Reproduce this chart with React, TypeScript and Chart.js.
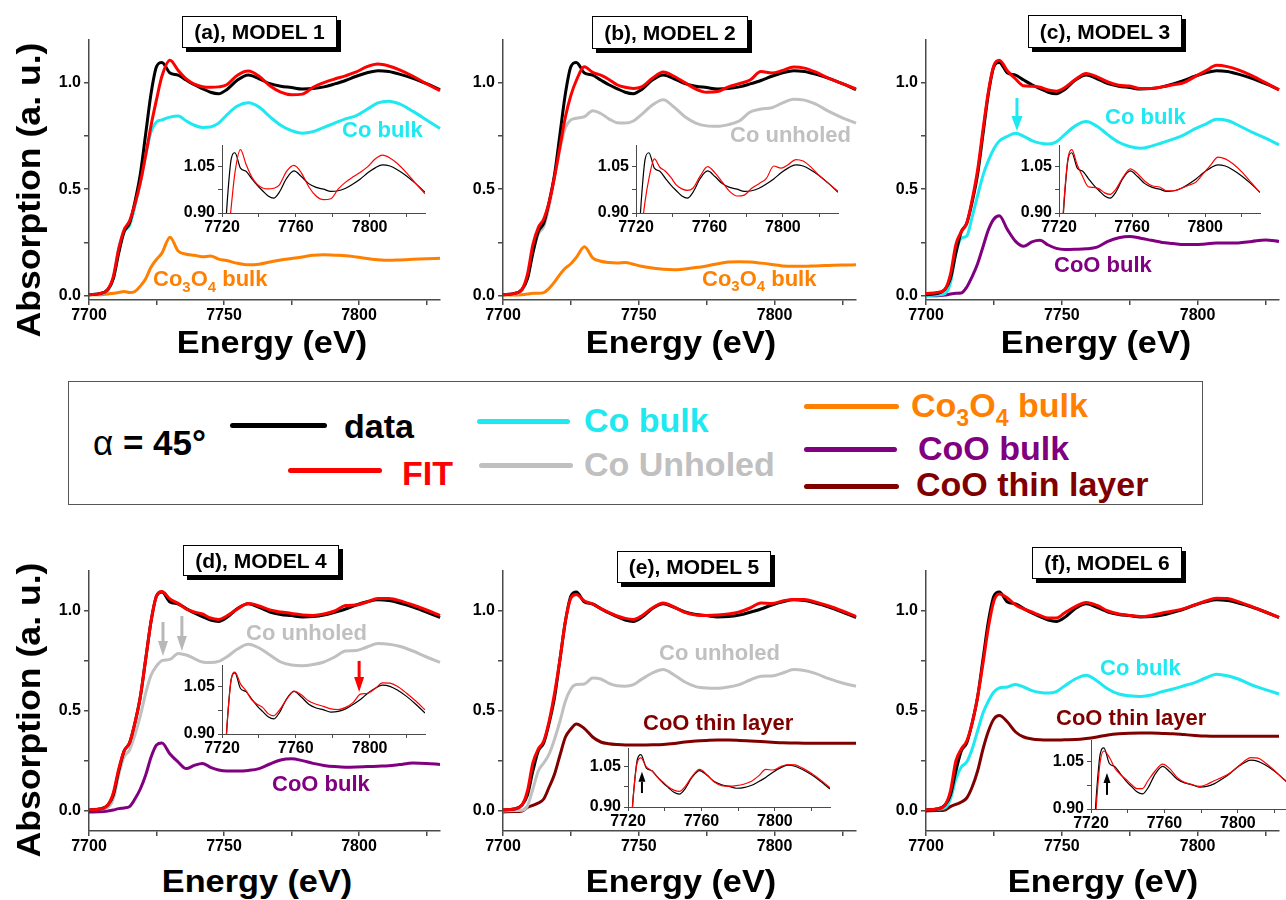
import React, { useEffect, useRef } from 'react';
import { Chart, registerables } from 'chart.js';

Chart.register(...registerables);

const FONT = 'Arial, "Liberation Sans", Helvetica, sans-serif';

// ---------- data (energy grid in eV, absorption in a.u.) ----------
const ENERGY = [
  7700, 7704, 7707, 7709, 7711, 7713, 7715, 7717, 7719, 7721,
  7723, 7725, 7727, 7730, 7733, 7736, 7739, 7742, 7745, 7748,
  7751, 7755, 7759, 7763, 7767, 7771, 7775, 7779, 7783, 7787,
  7791, 7795, 7799, 7803, 7807, 7811, 7815, 7820, 7825, 7830,
];

const DATA = [
  0.005, 0.01, 0.03, 0.08, 0.2, 0.3, 0.34, 0.44, 0.57, 0.76,
  0.95, 1.075, 1.095, 1.045, 1.035, 1.012, 0.99, 0.972, 0.955, 0.948,
  0.967, 1.012, 1.036, 1.018, 0.995, 0.983, 0.977, 0.97, 0.972, 0.98,
  0.994, 1.01, 1.03, 1.046, 1.056, 1.052, 1.04, 1.02, 0.995, 0.967,
];

const FIT_A = [
  0.005, 0.01, 0.03, 0.09, 0.22, 0.31, 0.35, 0.43, 0.53, 0.66,
  0.8, 0.92, 1.03, 1.105, 1.058, 1.018, 0.993, 0.981, 0.978, 0.98,
  0.99, 1.035, 1.054, 1.03, 0.985, 0.955, 0.943, 0.946, 0.978, 1.0,
  1.017, 1.032, 1.05, 1.075, 1.087, 1.078, 1.06, 1.03, 0.995, 0.962,
];
const CO_BULK_A = [
  0.005, 0.008, 0.025, 0.08, 0.22, 0.3, 0.33, 0.42, 0.53, 0.66,
  0.77, 0.815, 0.825, 0.838, 0.843, 0.82, 0.8, 0.79, 0.792, 0.81,
  0.848, 0.89, 0.905, 0.885, 0.84, 0.8, 0.775, 0.763, 0.77, 0.79,
  0.81, 0.83, 0.845, 0.875, 0.905, 0.913, 0.9, 0.865, 0.825, 0.785,
];
const CO3O4_A = [
  0.005, 0.005, 0.008, 0.012, 0.015, 0.02, 0.015, 0.02, 0.045, 0.08,
  0.135, 0.17, 0.2, 0.275, 0.21, 0.195, 0.19, 0.183, 0.186, 0.172,
  0.165, 0.152, 0.145, 0.148, 0.158, 0.168, 0.175, 0.182, 0.19, 0.192,
  0.19, 0.188, 0.182, 0.175, 0.169, 0.166, 0.168, 0.171, 0.173, 0.176,
];

const FIT_B = [
  0.005, 0.01, 0.03, 0.1, 0.24, 0.32, 0.36, 0.44, 0.56, 0.7,
  0.84, 0.94, 1.01, 1.075, 1.048, 1.035, 1.015, 0.99, 0.978, 0.973,
  0.98, 1.02, 1.05, 1.03, 1.0, 0.97, 0.955, 0.958, 0.98, 0.995,
  1.012, 1.052, 1.045, 1.057, 1.073, 1.068, 1.05, 1.02, 0.995, 0.97,
];
const CO_UNHOLED_B = [
  0.005, 0.008, 0.025, 0.08, 0.21, 0.29, 0.325, 0.42, 0.56, 0.69,
  0.79, 0.825, 0.833, 0.84, 0.868, 0.855, 0.83, 0.812, 0.81, 0.82,
  0.85, 0.895, 0.92, 0.885, 0.84, 0.81, 0.797, 0.795, 0.803, 0.82,
  0.862, 0.876, 0.882, 0.905, 0.922, 0.918, 0.9, 0.865, 0.835, 0.81,
];
const CO3O4_B = [
  0.003, 0.003, 0.005, 0.008, 0.012, 0.012, 0.015, 0.035, 0.065, 0.1,
  0.13, 0.15, 0.18, 0.23, 0.178, 0.162, 0.156, 0.154, 0.156, 0.148,
  0.138, 0.13, 0.124, 0.122, 0.126, 0.132, 0.14, 0.15, 0.158, 0.16,
  0.158, 0.153, 0.147, 0.14, 0.138, 0.138, 0.14, 0.142, 0.144, 0.145,
];

const FIT_C = [
  0.01, 0.015, 0.03, 0.1, 0.24, 0.3, 0.34, 0.45, 0.59, 0.78,
  0.96, 1.08, 1.105, 1.055, 1.017, 0.985, 0.983, 0.978, 0.965, 0.96,
  0.976, 1.015, 1.043, 1.027, 1.003, 0.988, 0.984, 0.972, 0.972, 0.98,
  0.99, 1.0, 1.028, 1.055, 1.081, 1.075, 1.06, 1.033, 1.0, 0.966,
];
const CO_BULK_C = [
  0.0, 0.003, 0.01, 0.06, 0.2, 0.27, 0.28, 0.37, 0.47, 0.565,
  0.635, 0.69, 0.726, 0.748, 0.762, 0.748, 0.728, 0.716, 0.712, 0.722,
  0.755, 0.797, 0.817, 0.795, 0.755, 0.72, 0.7, 0.692, 0.702, 0.718,
  0.735, 0.755, 0.783, 0.805, 0.828, 0.822, 0.8, 0.768, 0.74, 0.708,
];
const COO_BULK_C = [
  0.0, 0.0, 0.003, 0.008, 0.012, 0.013, 0.04, 0.09, 0.15, 0.23,
  0.31, 0.36, 0.375, 0.31, 0.255, 0.232, 0.253, 0.26, 0.238, 0.222,
  0.217, 0.218, 0.22, 0.228, 0.255, 0.272, 0.278, 0.27, 0.26, 0.25,
  0.245, 0.24, 0.24, 0.243, 0.247, 0.247, 0.248, 0.255, 0.262, 0.255,
];

const FIT_D = [
  0.005, 0.01, 0.03, 0.09, 0.21, 0.3, 0.34, 0.44, 0.57, 0.76,
  0.95, 1.075, 1.097, 1.06, 1.038, 1.01, 0.995, 0.985, 0.965, 0.958,
  0.975, 1.01, 1.037, 1.025, 1.005, 0.995, 0.988, 0.98, 0.978, 0.985,
  1.0, 1.027, 1.03, 1.045, 1.063, 1.062, 1.052, 1.03, 1.005, 0.977,
];
const CO_UNHOLED_D = [
  0.007, 0.01, 0.018, 0.06, 0.18, 0.27, 0.305, 0.38, 0.475, 0.59,
  0.68, 0.725, 0.752, 0.758, 0.788, 0.78, 0.762, 0.745, 0.742, 0.748,
  0.77, 0.81, 0.834, 0.815, 0.78, 0.745, 0.73, 0.726, 0.732, 0.745,
  0.77, 0.8, 0.802, 0.82, 0.837, 0.834, 0.824, 0.8, 0.77, 0.743,
];
const COO_BULK_D = [
  -0.005, -0.004, 0.0, 0.005, 0.012, 0.015, 0.022, 0.06, 0.11, 0.18,
  0.27, 0.33, 0.34, 0.285, 0.245, 0.212, 0.228, 0.238, 0.218, 0.205,
  0.2, 0.2, 0.203, 0.212, 0.235, 0.255, 0.261, 0.252, 0.238, 0.228,
  0.222, 0.219, 0.22, 0.222, 0.224, 0.226, 0.232, 0.24, 0.238, 0.233,
];

const FIT_E = [
  0.005, 0.01, 0.03, 0.1, 0.24, 0.31, 0.35, 0.45, 0.59, 0.76,
  0.95, 1.065, 1.083, 1.05, 1.035, 1.012, 0.993, 0.975, 0.963, 0.958,
  0.975, 1.015, 1.04, 1.02, 0.993, 0.98, 0.978, 0.98, 0.985, 0.995,
  1.015, 1.04, 1.038, 1.05, 1.058, 1.057, 1.045, 1.025, 1.0, 0.972,
];
const CO_UNHOLED_E = [
  0.0, 0.002, 0.004, 0.025, 0.11, 0.2, 0.24, 0.285, 0.36, 0.45,
  0.55, 0.61, 0.632, 0.635, 0.665, 0.66, 0.638, 0.626, 0.624, 0.632,
  0.658, 0.69, 0.707, 0.68, 0.645, 0.622, 0.615, 0.614, 0.62, 0.632,
  0.655, 0.674, 0.675, 0.69, 0.707, 0.702, 0.688, 0.662, 0.64, 0.624,
];
const COO_THIN_E = [
  -0.005, -0.003, 0.0, 0.018, 0.028, 0.04, 0.06, 0.12, 0.185, 0.28,
  0.37, 0.41, 0.435, 0.412, 0.37, 0.345, 0.336, 0.332, 0.33, 0.33,
  0.33, 0.331, 0.333, 0.338, 0.345, 0.35, 0.353, 0.355, 0.355, 0.353,
  0.35, 0.347, 0.344, 0.341, 0.34, 0.339, 0.339, 0.339, 0.339, 0.339,
];

const FIT_F = [
  0.005, 0.01, 0.03, 0.1, 0.25, 0.31, 0.35, 0.44, 0.57, 0.74,
  0.92, 1.05, 1.085, 1.065, 1.03, 1.01, 0.995, 0.978, 0.965, 0.965,
  0.99, 1.022, 1.043, 1.028, 1.0, 0.985, 0.978, 0.972, 0.978, 0.99,
  1.0, 1.012, 1.03, 1.05, 1.064, 1.062, 1.047, 1.022, 0.995, 0.968,
];
const CO_BULK_F = [
  0.007, 0.009, 0.015, 0.06, 0.16, 0.22, 0.245, 0.31, 0.4, 0.49,
  0.55, 0.595, 0.615, 0.62, 0.633, 0.62, 0.602, 0.593, 0.59, 0.597,
  0.625, 0.66, 0.679, 0.65, 0.61, 0.585, 0.576, 0.573, 0.58, 0.597,
  0.61, 0.626, 0.642, 0.665, 0.684, 0.676, 0.66, 0.63, 0.607, 0.585,
];
const COO_THIN_F = [
  0.0, 0.002, 0.005, 0.022, 0.033, 0.045, 0.065, 0.12, 0.2, 0.31,
  0.4, 0.46, 0.477, 0.445, 0.395, 0.37, 0.36, 0.356, 0.355, 0.355,
  0.356, 0.357, 0.362, 0.37, 0.38, 0.386, 0.389, 0.39, 0.39, 0.388,
  0.386, 0.382, 0.378, 0.375, 0.374, 0.374, 0.374, 0.374, 0.374, 0.374,
];

// ---------- ticks ----------
const MAIN_X_TICKS = [7700, 7725, 7750, 7775, 7800, 7825];
const MAIN_X_LABELS = [7700, 7750, 7800];
const MAIN_Y_TICKS = [0, 0.25, 0.5, 0.75, 1.0];
const MAIN_Y_LABELS = [0, 0.5, 1.0];
const INSET_X_TICKS = [7720, 7740, 7760, 7780, 7800, 7820];
const INSET_X_LABELS = [7720, 7760, 7800];
const INSET_Y_TICKS = [0.9, 0.975, 1.05];
const INSET_Y_LABELS = [0.9, 1.05];

// ---------- colours ----------
const C_DATA = '#000000';
const C_FIT = '#ff0000';
const C_CO_BULK = '#1ee8f0';
const C_UNHOLED = '#c0c0c0';
const C_CO3O4 = '#ff8000';
const C_COO_BULK = '#800080';
const C_COO_THIN = '#800000';
const AXIS_COLOR = '#4a4a4a';

type Line = { values: number[]; color: string };
type ArrowMark = { e: number; from: number; to: number; color: string; w: number; hw: number; hl: number };
type Rect = { l: number; t: number; r: number; b: number };

const near = (arr: number[], v: number) => arr.some((a) => Math.abs(a - v) < 1e-6);

const arrowPlugin = {
  id: 'arrowMarks',
  afterDatasetsDraw(chart: any, _args: any, opts: any) {
    const items: ArrowMark[] = (opts && opts.items) || [];
    const ctx = chart.ctx;
    const xs = chart.scales.x;
    const ys = chart.scales.y;
    items.forEach((a) => {
      const x = xs.getPixelForValue(a.e);
      const y0 = ys.getPixelForValue(a.from);
      const y1 = ys.getPixelForValue(a.to);
      const dir = Math.sign(y1 - y0);
      const base = y1 - dir * a.hl;
      ctx.save();
      ctx.strokeStyle = a.color;
      ctx.fillStyle = a.color;
      ctx.lineWidth = a.w;
      ctx.beginPath();
      ctx.moveTo(x, y0);
      ctx.lineTo(x, base);
      ctx.stroke();
      ctx.beginPath();
      ctx.moveTo(x - a.hw / 2, base);
      ctx.lineTo(x + a.hw / 2, base);
      ctx.lineTo(x, y1);
      ctx.closePath();
      ctx.fill();
      ctx.restore();
    });
  },
};

type PlotProps = {
  rect: Rect;
  inset: boolean;
  xMin: number;
  xMax: number;
  yMin: number;
  yMax: number;
  lines: Line[];
  arrows?: ArrowMark[];
};

function Plot(p: PlotProps) {
  const ref = useRef<HTMLCanvasElement | null>(null);
  const m = p.inset ? { yw: 48, pt: 10, pr: 10, xh: 24 } : { yw: 64, pt: 10, pr: 12, xh: 30 };
  const W = p.rect.r - p.rect.l + m.yw + m.pr;
  const H = p.rect.b - p.rect.t + m.pt + m.xh;

  useEffect(() => {
    const canvas = ref.current;
    if (!canvas) return;
    const xT = p.inset ? INSET_X_TICKS : MAIN_X_TICKS;
    const xL = p.inset ? INSET_X_LABELS : MAIN_X_LABELS;
    const yT = p.inset ? INSET_Y_TICKS : MAIN_Y_TICKS;
    const yL = p.inset ? INSET_Y_LABELS : MAIN_Y_LABELS;
    const tickFont = { family: FONT, size: 16, weight: 'bold' as const };
    const zeroPad = (ax: any) => {
      ax.paddingLeft = 0;
      ax.paddingRight = 0;
      ax.paddingTop = 0;
      ax.paddingBottom = 0;
    };
    const chart = new Chart(canvas, {
      type: 'line',
      data: {
        datasets: p.lines.map((ln) => ({
          data: ENERGY.map((x, i) => ({ x, y: ln.values[i] })),
          borderColor: ln.color,
          backgroundColor: ln.color,
          borderWidth: p.inset ? 1.2 : 3,
          pointRadius: 0,
          cubicInterpolationMode: 'monotone' as const,
          fill: false,
          clip: p.inset ? 0 : 1,
        })),
      },
      options: {
        animation: false,
        responsive: false,
        maintainAspectRatio: false,
        events: [],
        layout: { padding: { left: 0, top: m.pt, right: m.pr, bottom: 0 } },
        plugins: {
          legend: { display: false },
          tooltip: { enabled: false },
          arrowMarks: { items: p.arrows || [] },
        } as any,
        scales: {
          x: {
            type: 'linear',
            bounds: 'data',
            min: p.xMin,
            max: p.xMax,
            afterBuildTicks: (ax: any) => {
              ax.ticks = xT.map((v) => ({ value: v }));
            },
            afterFit: (ax: any) => {
              ax.height = m.xh;
              zeroPad(ax);
            },
            ticks: {
              autoSkip: false,
              maxRotation: 0,
              minRotation: 0,
              padding: 1,
              color: '#000',
              font: tickFont,
              callback: (v: any) => (near(xL, Number(v)) ? String(v) : ''),
            },
            grid: {
              display: true,
              drawOnChartArea: false,
              drawTicks: true,
              tickLength: p.inset ? 4 : 5,
              color: AXIS_COLOR,
              lineWidth: p.inset ? 1 : 1.5,
            },
            border: { display: true, color: AXIS_COLOR, width: p.inset ? 1 : 1.5 },
          },
          y: {
            type: 'linear',
            bounds: 'data',
            min: p.yMin,
            max: p.yMax,
            afterBuildTicks: (ax: any) => {
              ax.ticks = yT.map((v) => ({ value: v }));
            },
            afterFit: (ax: any) => {
              ax.width = m.yw;
              zeroPad(ax);
            },
            ticks: {
              autoSkip: false,
              padding: 3,
              color: '#000',
              font: tickFont,
              callback: (v: any) =>
                near(yL, Number(v)) ? Number(v).toFixed(p.inset ? 2 : 1) : '',
            },
            grid: {
              display: true,
              drawOnChartArea: false,
              drawTicks: true,
              tickLength: p.inset ? 4 : 5,
              color: AXIS_COLOR,
              lineWidth: p.inset ? 1 : 1.5,
            },
            border: { display: true, color: AXIS_COLOR, width: p.inset ? 1 : 1.5 },
          },
        },
      },
      plugins: [arrowPlugin as any],
    });
    return () => chart.destroy();
  }, []);

  return (
    <canvas
      ref={ref}
      width={W}
      height={H}
      style={{
        position: 'absolute',
        left: p.rect.l - m.yw,
        top: p.rect.t - m.pt,
        width: W,
        height: H,
        display: 'block',
      }}
    />
  );
}

// ---------- panels ----------
type Panel = {
  title: string;
  box: { x: number; y: number; w: number; h: number };
  main: Rect;
  yMin: number;
  inset: Rect;
  fit: number[];
  comps: Line[];
  mainArrows?: ArrowMark[];
  insetArrows?: ArrowMark[];
  xTitle: { cx: number; cy: number };
};

const TOP_YMIN = -0.02;
const BOT_YMIN = -0.1;

const PANELS: Panel[] = [
  {
    title: '(a), MODEL 1',
    box: { x: 182, y: 16, w: 155, h: 32 },
    main: { l: 89, t: 40, r: 440, b: 300 },
    yMin: TOP_YMIN,
    inset: { l: 222, t: 145, r: 425, b: 213 },
    fit: FIT_A,
    comps: [
      { values: CO_BULK_A, color: C_CO_BULK },
      { values: CO3O4_A, color: C_CO3O4 },
    ],
    xTitle: { cx: 272, cy: 341.5 },
  },
  {
    title: '(b), MODEL 2',
    box: { x: 592, y: 16, w: 156, h: 33 },
    main: { l: 503, t: 40, r: 856, b: 300 },
    yMin: TOP_YMIN,
    inset: { l: 636, t: 145, r: 838, b: 213 },
    fit: FIT_B,
    comps: [
      { values: CO_UNHOLED_B, color: C_UNHOLED },
      { values: CO3O4_B, color: C_CO3O4 },
    ],
    xTitle: { cx: 681, cy: 341.5 },
  },
  {
    title: '(c), MODEL 3',
    box: { x: 1028, y: 15, w: 154, h: 33 },
    main: { l: 926, t: 40, r: 1279, b: 300 },
    yMin: TOP_YMIN,
    inset: { l: 1059, t: 145, r: 1260, b: 213 },
    fit: FIT_C,
    comps: [
      { values: CO_BULK_C, color: C_CO_BULK },
      { values: COO_BULK_C, color: C_COO_BULK },
    ],
    mainArrows: [{ e: 7733.5, from: 0.928, to: 0.773, color: C_CO_BULK, w: 3, hw: 11, hl: 15 }],
    xTitle: { cx: 1096, cy: 341.5 },
  },
  {
    title: '(d), MODEL 4',
    box: { x: 183, y: 545, w: 156, h: 31 },
    main: { l: 89, t: 571, r: 440, b: 831 },
    yMin: BOT_YMIN,
    inset: { l: 222, t: 665, r: 425, b: 734 },
    fit: FIT_D,
    comps: [
      { values: CO_UNHOLED_D, color: C_UNHOLED },
      { values: COO_BULK_D, color: C_COO_BULK },
    ],
    mainArrows: [
      { e: 7727.4, from: 0.945, to: 0.775, color: '#b8b8b8', w: 3, hw: 10, hl: 15 },
      { e: 7734.4, from: 0.975, to: 0.8, color: '#b8b8b8', w: 3, hw: 10, hl: 15 },
    ],
    insetArrows: [{ e: 7794.3, from: 1.133, to: 1.034, color: C_FIT, w: 3, hw: 10, hl: 15 }],
    xTitle: { cx: 257, cy: 881 },
  },
  {
    title: '(e), MODEL 5',
    box: { x: 617, y: 551, w: 154, h: 32 },
    main: { l: 503, t: 571, r: 856, b: 831 },
    yMin: BOT_YMIN,
    inset: { l: 628, t: 748, r: 830, b: 807 },
    fit: FIT_E,
    comps: [
      { values: CO_UNHOLED_E, color: C_UNHOLED },
      { values: COO_THIN_E, color: C_COO_THIN },
    ],
    insetArrows: [{ e: 7727.6, from: 0.952, to: 1.031, color: '#000', w: 2, hw: 7, hl: 10 }],
    xTitle: { cx: 681, cy: 881 },
  },
  {
    title: '(f), MODEL 6',
    box: { x: 1032, y: 547, w: 150, h: 32 },
    main: { l: 926, t: 571, r: 1279, b: 831 },
    yMin: BOT_YMIN,
    inset: { l: 1091, t: 740, r: 1293, b: 809 },
    fit: FIT_F,
    comps: [
      { values: CO_BULK_F, color: C_CO_BULK },
      { values: COO_THIN_F, color: C_COO_THIN },
    ],
    insetArrows: [{ e: 7728.7, from: 0.945, to: 1.015, color: '#000', w: 2, hw: 7, hl: 10 }],
    xTitle: { cx: 1103, cy: 881 },
  },
];

// ---------- text helpers ----------
function Sub({ children }: { children: React.ReactNode }) {
  return (
    <span style={{ fontSize: '0.68em', position: 'relative', top: '0.38em' }}>{children}</span>
  );
}

function Label(props: {
  x: number;
  cy: number;
  size: number;
  color: string;
  children: React.ReactNode;
}) {
  return (
    <div
      style={{
        position: 'absolute',
        left: props.x,
        top: props.cy - props.size * 0.5,
        fontFamily: FONT,
        fontSize: props.size,
        fontWeight: 'bold',
        color: props.color,
        lineHeight: 1,
        whiteSpace: 'nowrap',
      }}
    >
      {props.children}
    </div>
  );
}

function Centered(props: {
  cx: number;
  cy: number;
  size: number;
  rotate?: boolean;
  scale?: number;
  children: React.ReactNode;
}) {
  const s = props.scale || 1;
  return (
    <div
      style={{
        position: 'absolute',
        left: props.cx,
        top: props.cy,
        transform: `translate(-50%, -50%)${props.rotate ? ' rotate(-90deg)' : ''} scaleX(${s})`,
        fontFamily: FONT,
        fontSize: props.size,
        fontWeight: 'bold',
        color: '#000',
        lineHeight: 1,
        whiteSpace: 'nowrap',
      }}
    >
      {props.children}
    </div>
  );
}

function TitleBox({ box, text }: { box: Panel['box']; text: string }) {
  return (
    <div
      style={{
        position: 'absolute',
        left: box.x,
        top: box.y,
        width: box.w,
        height: box.h,
        boxSizing: 'border-box',
        border: '1px solid #000',
        background: '#fff',
        boxShadow: '4px 4px 0 #000',
        display: 'flex',
        alignItems: 'center',
        justifyContent: 'center',
        fontFamily: FONT,
        fontWeight: 'bold',
        fontSize: 21,
        color: '#000',
        whiteSpace: 'nowrap',
      }}
    >
      {text}
    </div>
  );
}

function LegendLine(props: { x1: number; x2: number; y: number; color: string }) {
  return (
    <div
      style={{
        position: 'absolute',
        left: props.x1,
        top: props.y - 2.5,
        width: props.x2 - props.x1,
        height: 5,
        borderRadius: 2.5,
        background: props.color,
      }}
    />
  );
}

export default function App() {
  return (
    <div
      style={{
        position: 'absolute',
        left: 0,
        top: 0,
        width: 1286,
        height: 900,
        overflow: 'hidden',
        background: '#fff',
        fontFamily: FONT,
      }}
    >
      {PANELS.map((pn) => (
        <Plot
          key={'m' + pn.title}
          rect={pn.main}
          inset={false}
          xMin={7700}
          xMax={7830}
          yMin={pn.yMin}
          yMax={1.2}
          lines={[{ values: pn.fit, color: C_FIT }, { values: DATA, color: C_DATA }, ...pn.comps]}
          arrows={pn.mainArrows}
        />
      ))}
      {PANELS.map((pn) => (
        <Plot
          key={'i' + pn.title}
          rect={pn.inset}
          inset={true}
          xMin={7720}
          xMax={7830}
          yMin={0.9}
          yMax={1.12}
          lines={[{ values: pn.fit, color: C_FIT }, { values: DATA, color: C_DATA }]}
          arrows={pn.insetArrows}
        />
      ))}

      {PANELS.map((pn) => (
        <TitleBox key={'t' + pn.title} box={pn.box} text={pn.title} />
      ))}
      {PANELS.map((pn) => (
        <Centered key={'x' + pn.title} cx={pn.xTitle.cx} cy={pn.xTitle.cy} size={32} scale={1.07}>
          Energy (eV)
        </Centered>
      ))}
      <Centered cx={28} cy={190} size={33} rotate scale={1.08}>
        Absorption (a. u.)
      </Centered>
      <Centered cx={28} cy={710} size={33} rotate scale={1.08}>
        Absorption (a. u.)
      </Centered>

      {/* in-plot component labels */}
      <Label x={342} cy={129.5} size={22} color={C_CO_BULK}>Co bulk</Label>
      <Label x={153} cy={279} size={22} color={C_CO3O4}>
        Co<Sub>3</Sub>O<Sub>4</Sub> bulk
      </Label>
      <Label x={730} cy={135} size={22} color={C_UNHOLED}>Co unholed</Label>
      <Label x={702} cy={278.5} size={22} color={C_CO3O4}>
        Co<Sub>3</Sub>O<Sub>4</Sub> bulk
      </Label>
      <Label x={1105} cy={116.7} size={22} color={C_CO_BULK}>Co bulk</Label>
      <Label x={1054} cy={264.5} size={22} color={C_COO_BULK}>CoO bulk</Label>
      <Label x={246} cy={632.5} size={22} color={C_UNHOLED}>Co unholed</Label>
      <Label x={272} cy={784} size={22} color={C_COO_BULK}>CoO bulk</Label>
      <Label x={659} cy={652.5} size={22} color={C_UNHOLED}>Co unholed</Label>
      <Label x={643} cy={723} size={22} color={C_COO_THIN}>CoO thin layer</Label>
      <Label x={1100} cy={668.3} size={22} color={C_CO_BULK}>Co bulk</Label>
      <Label x={1056} cy={718} size={22} color={C_COO_THIN}>CoO thin layer</Label>

      {/* legend box */}
      <div
        style={{
          position: 'absolute',
          left: 68,
          top: 381,
          width: 1203 - 68,
          height: 505 - 381,
          boxSizing: 'border-box',
          border: '1.5px solid #555',
          background: 'transparent',
        }}
      />
      <div
        style={{
          position: 'absolute',
          left: 93,
          top: 442.5 - 17.5,
          fontFamily: FONT,
          fontSize: 35,
          lineHeight: 1,
          color: '#000',
          whiteSpace: 'nowrap',
        }}
      >
        <span style={{ fontWeight: 'normal' }}>α</span>
        <span style={{ fontWeight: 'bold' }}> = 45°</span>
      </div>
      <LegendLine x1={230} x2={327} y={425.7} color={C_DATA} />
      <Label x={344} cy={426} size={34} color={C_DATA}>data</Label>
      <LegendLine x1={288} x2={382} y={470} color={C_FIT} />
      <Label x={402} cy={472.5} size={34} color={C_FIT}>FIT</Label>
      <LegendLine x1={477} x2={570} y={421.7} color={C_CO_BULK} />
      <Label x={584} cy={420} size={34} color={C_CO_BULK}>Co bulk</Label>
      <LegendLine x1={479} x2={573} y={465} color={C_UNHOLED} />
      <Label x={584} cy={464} size={34} color={C_UNHOLED}>Co Unholed</Label>
      <LegendLine x1={804} x2={899} y={406.7} color={C_CO3O4} />
      <Label x={911} cy={405} size={34} color={C_CO3O4}>
        Co<Sub>3</Sub>O<Sub>4</Sub> bulk
      </Label>
      <LegendLine x1={804} x2={897} y={449} color={C_COO_BULK} />
      <Label x={918} cy={447.5} size={34} color={C_COO_BULK}>CoO bulk</Label>
      <LegendLine x1={804} x2={899} y={486.7} color={C_COO_THIN} />
      <Label x={916} cy={483.5} size={34} color={C_COO_THIN}>CoO thin layer</Label>
    </div>
  );
}
